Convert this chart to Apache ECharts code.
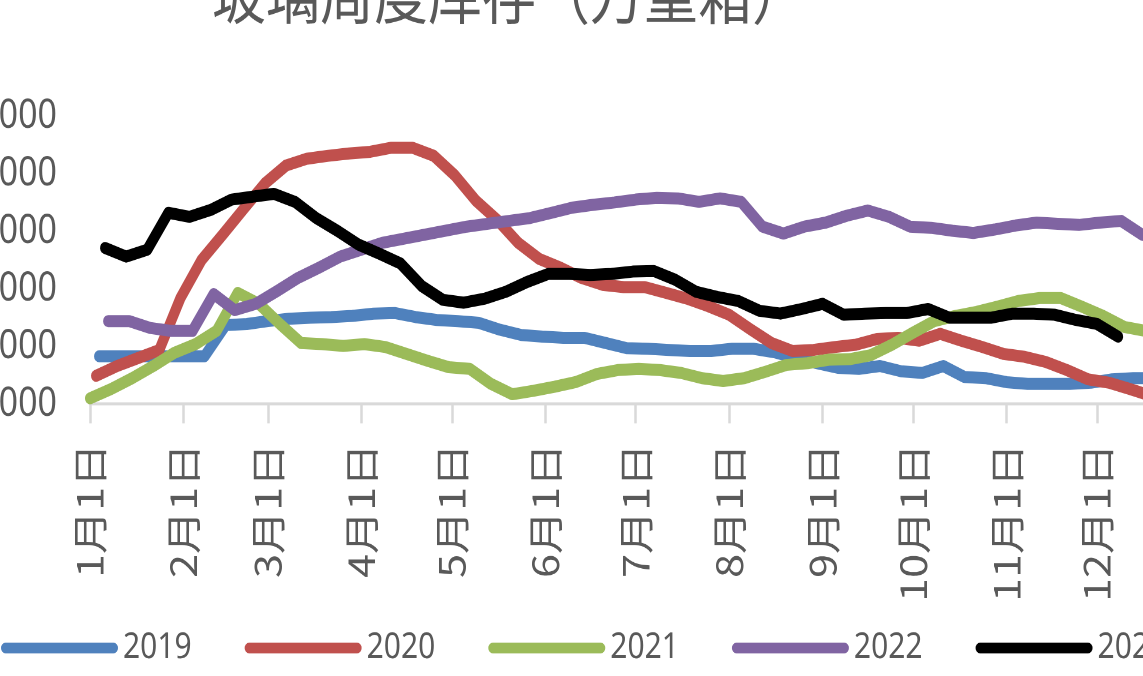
<!DOCTYPE html>
<html>
<head>
<meta charset="utf-8">
<title>玻璃周度库存</title>
<script src="https://cdn.jsdelivr.net/npm/echarts@6/dist/echarts.min.js"></script>
<style>
  html, body { margin: 0; padding: 0; background: #fff; overflow: hidden; width: 1143px; height: 676px; }
  /* source picture is a stretched crop: draw in unscaled units, stretch vertically */
  #main { position: absolute; left: -40px; top: -60px; width: 1260px; height: 620px; transform: scale(1, 1.2); transform-origin: 0 0; }
</style>
</head>
<body>
<div id="main"></div>
<script>
// month ticks (day of year) and their labels
var monthStarts = [0, 31, 59, 90, 120, 151, 181, 212, 243, 273, 304, 334];
var monthLabels = ['1月1日', '2月1日', '3月1日', '4月1日', '5月1日', '6月1日',
  '7月1日', '8月1日', '9月1日', '10月1日', '11月1日', '12月1日'];
var yTicks = [2000, 3000, 4000, 5000, 6000, 7000];

var years = ['2019', '2020', '2021', '2022', '2023'];
var colors = ['#4F81BD', '#C0504D', '#9BBB59', '#8064A2', '#000000'];
// day of year of each year's first weekly reading
var firstDays = [3, 2, 0, 6, 5];

var v2019 = [2830, 2830, 2830, 2830, 2830, 2830, 3370, 3390, 3440, 3480, 3500, 3510, 3530,
  3570, 3580, 3510, 3460, 3440, 3410, 3290, 3200, 3170, 3150, 3150, 3060, 2970, 2960, 2940,
  2920, 2920, 2960, 2960, 2900, 2800, 2710, 2630, 2610, 2660, 2570, 2540, 2660, 2470, 2450,
  2380, 2350, 2350, 2350, 2370, 2430, 2450, 2450, 2430];
var v2020 = [2490, 2660, 2800, 2940, 3840, 4500, 4940, 5390, 5830, 6140, 6260, 6310, 6350,
  6380, 6450, 6450, 6310, 5970, 5530, 5200, 4800, 4520, 4370, 4190, 4070, 4030, 4030, 3930,
  3830, 3700, 3550, 3300, 3060, 2920, 2940, 2990, 3030, 3130, 3150, 3100, 3220, 3100, 2990,
  2870, 2820, 2730, 2590, 2430, 2370, 2260, 2140, 2070];
var v2021 = [2100, 2260, 2450, 2660, 2890, 3040, 3270, 3930, 3740, 3390, 3060, 3040, 3010,
  3040, 2990, 2870, 2750, 2640, 2610, 2350, 2170, 2230, 2300, 2380, 2520, 2590, 2610, 2590,
  2540, 2450, 2400, 2450, 2560, 2680, 2710, 2770, 2780, 2850, 3030, 3240, 3440, 3530, 3600,
  3690, 3790, 3840, 3840, 3690, 3530, 3340, 3270, 3230];
var v2022 = [3440, 3440, 3320, 3270, 3270, 3910, 3630, 3740, 3960, 4190, 4370, 4560, 4680,
  4800, 4870, 4940, 5010, 5080, 5130, 5180, 5230, 5320, 5410, 5460, 5500, 5550, 5580, 5570,
  5510, 5570, 5510, 5080, 4960, 5080, 5150, 5270, 5360, 5250, 5080, 5060, 5010, 4970, 5030,
  5100, 5150, 5130, 5110, 5150, 5180, 4940, 4830, 4800];
var v2023 = [4710, 4560, 4680, 5320, 5250, 5370, 5550, 5600, 5650, 5510, 5230, 5010, 4770,
  4610, 4440, 4050, 3810, 3760, 3830, 3950, 4120, 4260, 4260, 4240, 4260, 4300, 4310, 4160,
  3950, 3860, 3790, 3620, 3570, 3650, 3740, 3550, 3570, 3580, 3580, 3650, 3500, 3500, 3500,
  3570, 3570, 3550, 3460, 3390, 3170];
var values = [v2019, v2020, v2021, v2022, v2023];

var chart = echarts.init(document.getElementById('main'), null, { devicePixelRatio: 2 });

var series = years.map(function (y, i) {
  return {
    name: y,
    type: 'line',
    symbol: 'none',
    color: colors[i],
    lineStyle: { width: 10, color: colors[i], cap: 'round', join: 'round' },
    data: values[i].map(function (v, k) { return [firstDays[i] + 7 * k, v]; })
  };
});

var option = {
  animation: false,
  backgroundColor: '#fff',
  title: {
    text: '玻璃周度库存（万重箱）',
    left: 247,
    top: 13,
    textStyle: { fontSize: 54, fontWeight: 'normal', color: '#595959', fontFamily: 'Noto Sans CJK SC' }
  },
  legend: {
    data: years,
    left: 36,
    top: 570,
    icon: 'path://M4.5,0H112.5A4.5,4.5,0,0,1,112.5,9H4.5A4.5,4.5,0,0,1,4.5,0Z',
    itemWidth: 117,
    itemHeight: 9,
    itemGap: 53,
    textStyle: { fontSize: 30, color: '#595959', fontFamily: 'Noto Sans' }
  },
  grid: { left: 130, top: 146.7, width: 1100.5, height: 240 },
  xAxis: {
    type: 'value',
    min: 0,
    max: 365,
    splitLine: { show: false },
    axisLine: { lineStyle: { color: '#d9d9d9', width: 2.5 } },
    axisTick: { customValues: monthStarts, length: 16, lineStyle: { color: '#d9d9d9', width: 2.5 } },
    axisLabel: {
      customValues: monthStarts,
      rotate: 90,
      margin: 33,
      fontSize: 36,
      color: '#595959',
      fontFamily: 'Noto Sans CJK SC',
      formatter: function (v) { return monthLabels[monthStarts.indexOf(v)]; }
    }
  },
  yAxis: {
    type: 'value',
    min: yTicks[0],
    max: yTicks[yTicks.length - 1],
    interval: 1000,
    splitLine: { show: false },
    axisLine: { show: false },
    axisTick: { show: false },
    axisLabel: { margin: 33, fontSize: 34, color: '#595959', fontFamily: 'Noto Sans' }
  },
  series: series
};

chart.setOption(option);
</script>
</body>
</html>
